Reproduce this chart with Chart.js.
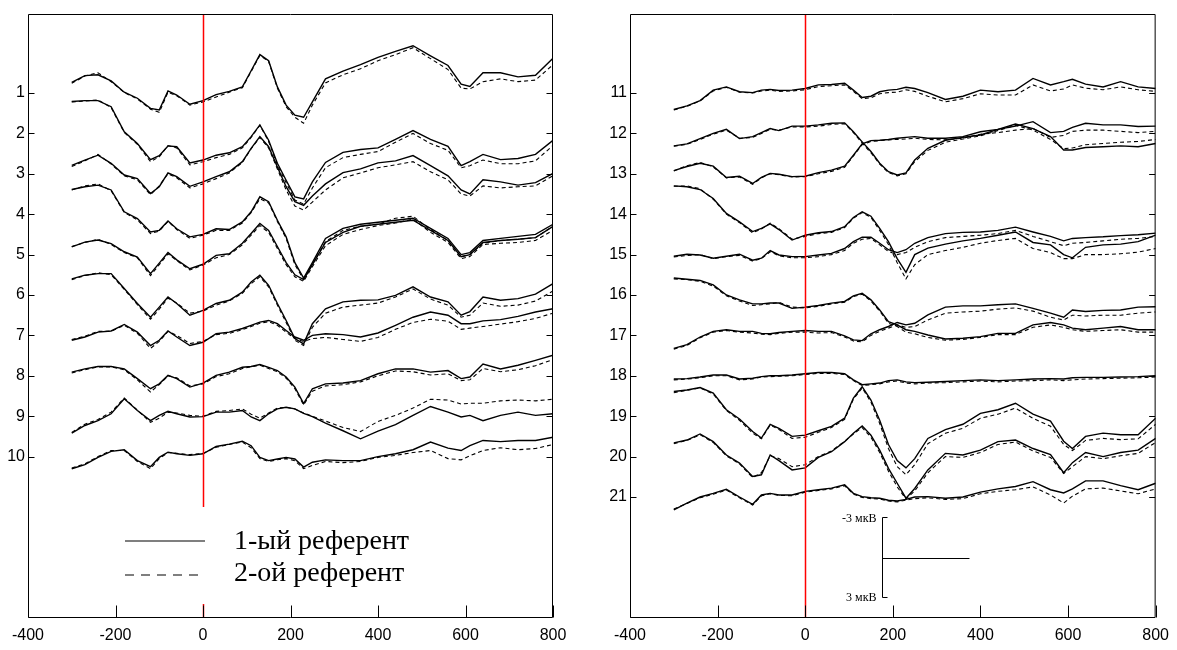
<!DOCTYPE html>
<html><head><meta charset="utf-8">
<script src="https://cdn.jsdelivr.net/npm/chart.js@4"></script>
<style>
html,body{margin:0;padding:0;background:#fff;width:1177px;height:650px;overflow:hidden}
canvas{position:absolute;left:0;top:0}
</style></head>
<body>
<canvas id="c1" width="1177" height="650"></canvas>
<canvas id="c2" width="1177" height="650"></canvas>
<script>
// ---- time axis (ms) shared by all traces ----
const times = [-300,-270,-240,-210,-180,-150,-120,-100,-80,-60,-30,0,30,60,90,110,130,150,170,190,210,230,250,280,320,360,400,440,480,520,560,590,610,640,680,720,760,800];
const xTickValues = [-400,-200,0,200,400,600,800];
const leftChannels = [1,2,3,4,5,6,7,8,9,10];
const rightChannels = [11,12,13,14,15,16,17,18,19,20,21];
const legendLabels = ['1-ый референт','2-ой референт'];
const scaleBarLabels = ['-3 мкВ','3 мкВ'];

// ---- left panel: 1st referent (solid) / 2nd referent (dashed), plotted in channel units ----
const L1_ref1 = [0.74,0.57,0.55,0.70,0.98,1.13,1.38,1.42,0.95,1.05,1.28,1.19,1.04,0.96,0.85,0.45,0.05,0.20,0.85,1.30,1.55,1.60,1.22,0.65,0.46,0.30,0.12,-0.03,-0.17,0.08,0.32,0.78,0.84,0.50,0.50,0.60,0.56,0.14];
const L1_ref2 = [0.76,0.58,0.50,0.72,0.99,1.15,1.40,1.48,0.98,1.07,1.30,1.22,1.10,0.98,0.87,0.47,0.07,0.22,0.88,1.34,1.60,1.75,1.30,0.75,0.55,0.40,0.20,0.05,-0.12,0.15,0.42,0.88,0.90,0.72,0.65,0.72,0.68,0.30];
const L2_ref1 = [1.21,1.19,1.19,1.34,1.96,2.25,2.65,2.55,2.31,2.33,2.73,2.66,2.54,2.48,2.33,2.08,1.79,2.17,2.74,3.16,3.57,3.62,3.20,2.72,2.47,2.40,2.36,2.15,1.93,2.15,2.32,2.80,2.70,2.52,2.65,2.62,2.52,2.17];
const L2_ref2 = [1.22,1.20,1.17,1.36,1.98,2.27,2.70,2.58,2.30,2.36,2.78,2.70,2.60,2.52,2.36,2.10,1.80,2.20,2.78,3.22,3.65,3.75,3.35,2.85,2.60,2.52,2.45,2.22,2.00,2.25,2.42,2.85,2.80,2.66,2.75,2.75,2.68,2.30];
const L3_ref1 = [2.79,2.66,2.54,2.74,3.03,3.12,3.49,3.32,2.98,3.07,3.31,3.20,3.07,2.95,2.70,2.37,2.08,2.33,2.83,3.32,3.69,3.78,3.55,3.25,2.97,2.88,2.73,2.68,2.55,2.80,3.05,3.40,3.50,3.15,3.20,3.28,3.22,2.99];
const L3_ref2 = [2.82,2.68,2.52,2.76,3.05,3.15,3.52,3.30,3.00,3.10,3.35,3.25,3.12,2.98,2.72,2.38,2.10,2.36,2.88,3.40,3.80,3.90,3.70,3.40,3.10,2.98,2.85,2.78,2.70,2.95,3.15,3.50,3.55,3.30,3.35,3.32,3.30,3.05];
const L4_ref1 = [3.39,3.32,3.28,3.40,3.94,4.11,4.44,4.40,4.17,4.36,4.56,4.50,4.36,4.38,4.19,3.94,3.57,3.69,4.15,4.56,5.20,5.58,5.20,4.60,4.35,4.25,4.20,4.15,4.10,4.35,4.60,5.00,4.95,4.65,4.60,4.55,4.50,4.25];
const L4_ref2 = [3.40,3.30,3.25,3.42,3.96,4.14,4.48,4.42,4.18,4.38,4.60,4.52,4.40,4.40,4.22,3.96,3.62,3.72,4.18,4.60,5.25,5.62,5.25,4.68,4.40,4.30,4.25,4.10,4.05,4.38,4.65,5.05,5.00,4.72,4.65,4.62,4.58,4.30];
const L5_ref1 = [4.81,4.69,4.64,4.73,4.93,5.06,5.47,5.21,4.95,5.13,5.35,5.24,5.02,4.98,4.72,4.48,4.23,4.40,4.80,5.20,5.50,5.62,5.25,4.70,4.45,4.30,4.25,4.20,4.15,4.40,4.65,5.05,5.00,4.70,4.65,4.62,4.58,4.30];
const L5_ref2 = [4.80,4.70,4.62,4.75,4.95,5.08,5.52,5.25,4.98,5.15,5.38,5.26,5.08,5.00,4.76,4.52,4.28,4.45,4.85,5.25,5.55,5.66,5.30,4.78,4.50,4.38,4.28,4.22,4.12,4.45,4.70,5.10,5.05,4.75,4.72,4.70,4.65,4.40];
const L6_ref1 = [5.60,5.51,5.47,5.47,5.84,6.21,6.55,6.30,6.05,6.21,6.50,6.38,6.21,6.13,5.93,5.68,5.51,5.76,6.21,6.63,7.08,7.21,6.71,6.34,6.17,6.13,6.12,6.01,5.80,6.05,6.17,6.50,6.41,6.05,6.13,6.09,5.98,5.72];
const L6_ref2 = [5.62,5.52,5.45,5.50,5.86,6.24,6.60,6.35,6.08,6.20,6.45,6.40,6.25,6.15,5.96,5.72,5.55,5.80,6.25,6.68,7.12,7.25,6.80,6.45,6.30,6.25,6.20,6.05,5.85,6.10,6.25,6.55,6.50,6.20,6.28,6.25,6.15,5.90];
const L7_ref1 = [7.12,7.04,6.92,6.89,6.73,6.92,7.25,7.12,6.89,7.04,7.25,7.17,6.96,6.92,6.83,6.75,6.67,6.63,6.71,6.88,7.04,7.12,7.00,6.96,6.98,7.04,6.94,6.75,6.55,6.42,6.50,6.71,6.71,6.64,6.61,6.53,6.42,6.34];
const L7_ref2 = [7.10,7.02,6.90,6.90,6.75,6.95,7.32,7.15,6.90,7.00,7.20,7.15,6.98,6.95,6.86,6.78,6.70,6.66,6.75,6.92,7.08,7.15,7.08,7.05,7.10,7.15,7.05,6.85,6.68,6.60,6.65,6.85,6.82,6.78,6.72,6.66,6.58,6.45];
const L8_ref1 = [7.91,7.83,7.77,7.77,7.83,8.07,8.32,8.20,7.99,8.07,8.28,8.18,7.99,7.91,7.79,7.77,7.72,7.79,7.87,8.03,8.28,8.69,8.32,8.20,8.18,8.12,7.95,7.83,7.83,7.91,7.87,8.07,8.03,7.71,7.83,7.74,7.62,7.49];
const L8_ref2 = [7.93,7.85,7.78,7.78,7.85,8.10,8.40,8.22,8.00,8.05,8.25,8.20,8.02,7.95,7.82,7.78,7.74,7.82,7.90,8.06,8.32,8.72,8.38,8.25,8.22,8.15,8.00,7.88,7.90,7.98,7.95,8.12,8.10,7.82,7.90,7.85,7.75,7.60];
const L9_ref1 = [9.42,9.23,9.11,8.94,8.57,8.86,9.11,8.98,8.88,8.94,9.02,9.01,8.90,8.90,8.86,9.02,9.11,8.94,8.82,8.78,8.82,8.93,9.01,9.17,9.36,9.56,9.37,9.21,8.98,8.76,8.90,9.02,8.98,9.11,8.98,8.90,8.98,8.94];
const L9_ref2 = [9.40,9.20,9.08,8.90,8.55,8.85,9.15,9.05,8.90,8.92,8.98,9.00,8.88,8.86,8.82,8.95,9.05,8.92,8.80,8.78,8.82,8.92,9.00,9.12,9.28,9.38,9.13,8.98,8.80,8.58,8.60,8.70,8.68,8.68,8.62,8.60,8.62,8.58];
const L10_ref1 = [10.30,10.20,10.02,9.87,9.83,10.10,10.25,10.02,9.89,9.93,9.97,9.93,9.75,9.69,9.62,9.73,10.02,10.10,10.06,10.02,10.06,10.26,10.14,10.08,10.10,10.10,10.00,9.93,9.83,9.64,9.79,9.85,9.73,9.60,9.63,9.60,9.60,9.52];
const L10_ref2 = [10.28,10.18,10.00,9.85,9.85,10.12,10.30,10.05,9.90,9.92,9.95,9.92,9.77,9.70,9.64,9.78,10.05,10.12,10.08,10.05,10.10,10.30,10.22,10.12,10.15,10.12,10.02,9.97,9.90,9.85,10.05,10.08,9.98,9.85,9.78,9.83,9.80,9.70];

// ---- right panel ----
const R11_ref1 = [11.41,11.32,11.19,10.93,10.85,10.97,10.99,10.93,10.91,10.94,10.93,10.89,10.80,10.79,10.76,10.93,11.11,11.08,10.97,10.93,10.91,10.86,10.89,10.99,11.16,11.08,10.93,10.97,10.93,10.64,10.80,10.72,10.66,10.78,10.85,10.72,10.85,10.89];
const R11_ref2 = [11.42,11.33,11.20,10.95,10.86,10.98,11.00,10.95,10.93,10.96,10.95,10.92,10.84,10.82,10.80,10.96,11.14,11.12,11.02,10.99,10.98,10.92,10.96,11.08,11.22,11.14,11.02,11.05,11.05,10.80,10.95,10.90,10.80,10.88,10.92,10.85,10.92,10.96];
const R12_ref1 = [12.31,12.26,12.13,12.00,11.90,12.13,12.08,11.98,11.88,11.93,11.82,11.82,11.79,11.75,11.74,11.96,12.21,12.45,12.74,12.95,13.03,12.98,12.66,12.37,12.17,12.10,12.04,11.90,11.77,11.88,12.08,12.41,12.41,12.35,12.33,12.31,12.33,12.25];
const R12_ref2 = [12.32,12.27,12.15,12.02,11.92,12.12,12.10,12.00,11.90,11.92,11.84,11.84,11.82,11.78,11.76,11.98,12.24,12.48,12.76,12.97,13.05,13.00,12.70,12.42,12.22,12.14,12.06,11.93,11.80,11.92,12.15,12.38,12.36,12.28,12.25,12.22,12.20,12.15];
const R13_ref1 = [12.92,12.82,12.74,12.81,13.09,13.06,13.24,13.09,12.99,13.01,13.07,13.06,12.97,12.91,12.81,12.54,12.26,12.18,12.17,12.15,12.12,12.10,12.08,12.12,12.12,12.08,11.96,11.90,11.82,11.71,11.98,11.95,11.85,11.75,11.79,11.79,11.83,11.82];
const R13_ref2 = [12.93,12.80,12.72,12.83,13.10,13.08,13.26,13.10,13.00,13.02,13.08,13.07,13.00,12.94,12.84,12.56,12.28,12.20,12.18,12.16,12.15,12.14,12.12,12.15,12.16,12.12,12.02,11.98,11.92,11.88,12.10,12.05,11.95,11.92,11.92,11.95,11.98,11.95];
const R14_ref1 = [13.30,13.32,13.39,13.61,13.98,14.19,14.43,14.35,14.24,14.38,14.64,14.52,14.46,14.43,14.31,14.08,13.94,14.05,14.35,14.68,15.10,15.44,15.00,14.84,14.74,14.66,14.60,14.52,14.44,14.70,14.76,15.00,15.08,14.82,14.76,14.74,14.68,14.52];
const R14_ref2 = [13.31,13.30,13.37,13.63,14.00,14.21,14.46,14.37,14.22,14.36,14.62,14.55,14.48,14.45,14.33,14.10,13.96,14.08,14.40,14.75,15.20,15.60,15.25,15.00,14.90,14.82,14.72,14.65,14.60,14.85,14.95,15.10,15.10,15.00,15.00,14.98,14.94,14.85];
const R15_ref1 = [15.04,14.99,15.01,15.09,15.04,14.99,15.14,15.09,14.90,15.01,15.05,15.05,15.01,14.97,14.85,14.68,14.57,14.57,14.72,14.88,14.95,14.88,14.72,14.58,14.48,14.45,14.44,14.40,14.32,14.44,14.55,14.66,14.60,14.58,14.56,14.53,14.51,14.47];
const R15_ref2 = [15.06,15.02,15.00,15.10,15.05,15.02,15.16,15.10,14.93,15.03,15.08,15.08,15.05,15.00,14.90,14.72,14.62,14.60,14.76,14.92,15.00,14.95,14.82,14.68,14.58,14.55,14.52,14.48,14.40,14.55,14.68,14.78,14.72,14.70,14.66,14.62,14.60,14.55];
const R16_ref1 = [15.58,15.61,15.64,15.75,16.00,16.12,16.22,16.22,16.20,16.20,16.33,16.30,16.26,16.20,16.16,16.02,15.96,16.12,16.37,16.66,16.74,16.86,16.90,16.99,17.09,17.07,17.03,16.95,16.95,16.74,16.68,16.74,16.82,16.86,16.82,16.78,16.86,16.86];
const R16_ref2 = [15.60,15.62,15.66,15.78,16.02,16.15,16.26,16.24,16.22,16.18,16.30,16.32,16.28,16.22,16.18,16.04,15.98,16.15,16.40,16.70,16.78,16.92,16.96,17.05,17.12,17.10,17.05,16.98,16.98,16.80,16.74,16.80,16.86,16.90,16.88,16.86,16.92,16.92];
const R17_ref1 = [17.32,17.23,17.04,16.90,16.86,16.90,16.90,16.95,16.96,16.93,16.90,16.88,16.90,16.90,17.01,17.11,17.13,16.96,16.86,16.78,16.68,16.74,16.70,16.49,16.30,16.27,16.27,16.24,16.22,16.33,16.45,16.55,16.37,16.41,16.38,16.37,16.30,16.29];
const R17_ref2 = [17.34,17.25,17.06,16.92,16.88,16.92,16.94,16.97,16.98,16.95,16.92,16.92,16.94,16.93,17.04,17.14,17.16,17.00,16.90,16.82,16.74,16.80,16.78,16.62,16.45,16.42,16.40,16.35,16.32,16.40,16.55,16.62,16.50,16.52,16.50,16.50,16.45,16.42];
const R18_ref1 = [18.08,18.07,18.03,17.98,17.98,18.08,18.06,18.02,18.00,18.00,17.98,17.95,17.92,17.92,17.95,18.10,18.22,18.20,18.18,18.12,18.10,18.15,18.17,18.16,18.14,18.12,18.10,18.12,18.10,18.08,18.07,18.08,18.05,18.04,18.04,18.03,18.02,18.00];
const R18_ref2 = [18.10,18.08,18.05,18.00,18.00,18.10,18.08,18.03,18.02,18.01,18.00,17.97,17.94,17.94,17.97,18.12,18.24,18.22,18.20,18.15,18.13,18.18,18.20,18.18,18.17,18.15,18.13,18.15,18.13,18.12,18.10,18.12,18.10,18.08,18.07,18.06,18.05,18.03];
const R19_ref1 = [18.39,18.35,18.29,18.43,18.84,19.07,19.38,19.54,19.20,19.30,19.50,19.47,19.36,19.25,19.05,18.55,18.27,18.60,19.10,19.70,20.10,20.28,20.05,19.55,19.33,19.20,18.93,18.84,18.68,18.95,19.12,19.62,19.80,19.50,19.42,19.46,19.46,19.05];
const R19_ref2 = [18.42,18.36,18.30,18.45,18.86,19.10,19.42,19.56,19.22,19.33,19.55,19.52,19.40,19.28,19.08,18.58,18.30,18.65,19.18,19.80,20.25,20.45,20.20,19.68,19.42,19.30,19.05,18.95,18.80,19.05,19.25,19.70,19.85,19.60,19.55,19.58,19.56,19.20];
const R20_ref1 = [19.66,19.59,19.44,19.63,19.96,20.16,20.49,20.45,19.96,20.10,20.33,20.28,20.02,19.88,19.63,19.42,19.24,19.47,19.84,20.29,20.66,21.03,20.79,20.33,19.92,19.96,19.84,19.63,19.59,19.80,19.95,20.40,20.15,19.90,20.00,19.90,19.84,19.55];
const R20_ref2 = [19.68,19.60,19.46,19.65,19.98,20.18,20.52,20.40,19.98,20.05,20.25,20.20,20.00,19.86,19.62,19.44,19.28,19.52,19.90,20.36,20.75,21.05,20.85,20.40,20.00,20.02,19.90,19.70,19.64,19.86,20.02,20.42,20.25,20.00,20.05,19.98,19.92,19.65];
const R21_ref1 = [21.32,21.15,21.00,20.91,20.81,21.00,21.18,20.95,20.91,20.95,20.95,20.86,20.82,20.78,20.70,20.91,20.99,21.02,21.03,21.08,21.10,21.06,21.00,20.99,21.03,21.00,20.88,20.80,20.74,20.62,20.82,20.90,20.80,20.60,20.60,20.72,20.82,20.66];
const R21_ref2 = [21.30,21.16,21.02,20.93,20.83,21.02,21.20,20.97,20.92,20.96,20.97,20.88,20.84,20.80,20.72,20.93,21.01,21.04,21.05,21.10,21.12,21.08,21.04,21.02,21.06,21.04,20.92,20.86,20.82,20.75,20.95,21.15,20.98,20.80,20.78,20.85,20.92,20.80];

const leftPairs = [[L1_ref1,L1_ref2],[L2_ref1,L2_ref2],[L3_ref1,L3_ref2],[L4_ref1,L4_ref2],[L5_ref1,L5_ref2],[L6_ref1,L6_ref2],[L7_ref1,L7_ref2],[L8_ref1,L8_ref2],[L9_ref1,L9_ref2],[L10_ref1,L10_ref2]];
const rightPairs = [[R11_ref1,R11_ref2],[R12_ref1,R12_ref2],[R13_ref1,R13_ref2],[R14_ref1,R14_ref2],[R15_ref1,R15_ref2],[R16_ref1,R16_ref2],[R17_ref1,R17_ref2],[R18_ref1,R18_ref2],[R19_ref1,R19_ref2],[R20_ref1,R20_ref2],[R21_ref1,R21_ref2]];

const TICK_FONT = {family:"'Liberation Sans Narrow','Liberation Sans',Arial,sans-serif", size:16};
const SERIF = "'Liberation Serif','Times New Roman',serif";

function makeDatasets(pairs){
  const out = [];
  pairs.forEach(([s,d]) => {
    out.push({data: d.map((v,i)=>({x:times[i], y:v})), borderColor:'#000', borderWidth:1.1, borderDash:[4,3], pointRadius:0, tension:0, fill:false});
    out.push({data: s.map((v,i)=>({x:times[i], y:v})), borderColor:'#000', borderWidth:1.4, pointRadius:0, tension:0, fill:false});
  });
  return out;
}

const framePlugin = {
  id: 'frame',
  afterDatasetsDraw(chart, args, opts){
    const {ctx, chartArea:a, scales:{x,y}} = chart;
    ctx.save();
    // stimulus onset line
    const x0 = Math.round(x.getPixelForValue(0)) + 0.5;
    ctx.strokeStyle = '#ff0000'; ctx.lineWidth = 1.5; ctx.setLineDash([]);
    ctx.beginPath(); ctx.moveTo(x0, a.top); ctx.lineTo(x0, a.bottom); ctx.stroke();

    if (opts.legend){
      ctx.fillStyle = '#fff';
      ctx.fillRect(108, 507, 324, 97);
      ctx.strokeStyle = '#000';
      ctx.lineWidth = 1.2;
      ctx.beginPath(); ctx.moveTo(125, 541); ctx.lineTo(205, 541); ctx.stroke();
      ctx.setLineDash([9,7]);
      ctx.beginPath(); ctx.moveTo(125, 575); ctx.lineTo(205, 575); ctx.stroke();
      ctx.setLineDash([]);
      ctx.fillStyle = '#000';
      ctx.font = '28px ' + SERIF;
      ctx.textBaseline = 'middle'; ctx.textAlign = 'left';
      ctx.fillText(legendLabels[0], 234, 542);
      ctx.fillText(legendLabels[1], 234, 574);
    }
    if (opts.scaleBar){
      const sb = opts.scaleBar;
      const bx = Math.round(x.getPixelForValue(sb.t0)) + 0.5;
      const ex = x.getPixelForValue(sb.t1);
      const yt = Math.round(y.getPixelForValue(sb.vTop)) + 0.5;
      const yb = Math.round(y.getPixelForValue(sb.vBottom)) + 0.5;
      const ym = Math.round((yt + yb) / 2) + 0.5;
      ctx.strokeStyle = '#000'; ctx.lineWidth = 1;
      ctx.beginPath();
      ctx.moveTo(bx + 5, yt); ctx.lineTo(bx, yt); ctx.lineTo(bx, yb); ctx.lineTo(bx + 5, yb);
      ctx.moveTo(bx, ym); ctx.lineTo(ex, ym);
      ctx.stroke();
      ctx.fillStyle = '#000';
      ctx.font = '12px ' + SERIF;
      ctx.textAlign = 'right'; ctx.textBaseline = 'middle';
      ctx.fillText(scaleBarLabels[0], bx - 6, yt + 1);
      ctx.fillText(scaleBarLabels[1], bx - 6, yb);
    }
    // frame and inward ticks
    ctx.strokeStyle = '#000'; ctx.lineWidth = 1; ctx.setLineDash([]);
    const L = a.left + 0.5, R = a.right - 0.5, T = a.top + 0.5, B = a.bottom - 0.5;
    ctx.beginPath();
    ctx.rect(L, T, R - L, B - T);
    y.ticks.forEach(t => {
      const py = Math.round(y.getPixelForValue(t.value)) + 0.5;
      ctx.moveTo(L, py); ctx.lineTo(L + 6, py);
      ctx.moveTo(R, py); ctx.lineTo(R - 6, py);
    });
    x.ticks.forEach(t => {
      const px = Math.round(x.getPixelForValue(t.value)) + 0.5;
      ctx.moveTo(px, B); ctx.lineTo(px, B - 12);
    });
    ctx.stroke();
    ctx.restore();
  }
};

function makeChart(id, pairs, channels, cfg){
  return new Chart(document.getElementById(id), {
    type: 'line',
    data: {datasets: makeDatasets(pairs)},
    options: {
      responsive: false, animation: false, devicePixelRatio: 1,
      layout: {padding: {left: cfg.padLeft, right: cfg.padRight, top: 14, bottom: 0}},
      plugins: {legend: {display: false}, tooltip: {enabled: false}, frame: cfg.frame},
      scales: {
        x: {
          type: 'linear', min: -400, max: 800,
          afterBuildTicks: s => { s.ticks = xTickValues.map(v => ({value: v})); },
          afterFit: s => { s.height = 32; },
          grid: {display: false, drawTicks: false}, border: {display: false},
          ticks: {font: TICK_FONT, color: '#000', padding: 8, maxRotation: 0, autoSkip: false}
        },
        y: {
          type: 'linear', reverse: true, min: cfg.yMin, max: cfg.yMax,
          afterBuildTicks: s => { s.ticks = channels.map(v => ({value: v})); },
          afterFit: s => { s.width = cfg.yWidth; },
          grid: {display: false, drawTicks: false}, border: {display: false},
          ticks: {font: TICK_FONT, color: '#000', padding: 3, autoSkip: false, callback: v => String(v)}
        }
      }
    },
    plugins: [framePlugin]
  });
}

makeChart('c1', leftPairs, leftChannels, {
  padLeft: 0, padRight: 624, yWidth: 28, yMin: -0.955, yMax: 13.995,
  frame: {legend: true}
});
makeChart('c2', rightPairs, rightChannels, {
  padLeft: 590, padRight: 20, yWidth: 40, yMin: 9.045, yMax: 23.995,
  frame: {scaleBar: {t0: 175, t1: 375, vTop: 21.5, vBottom: 23.48}}
});
</script>
</body></html>
